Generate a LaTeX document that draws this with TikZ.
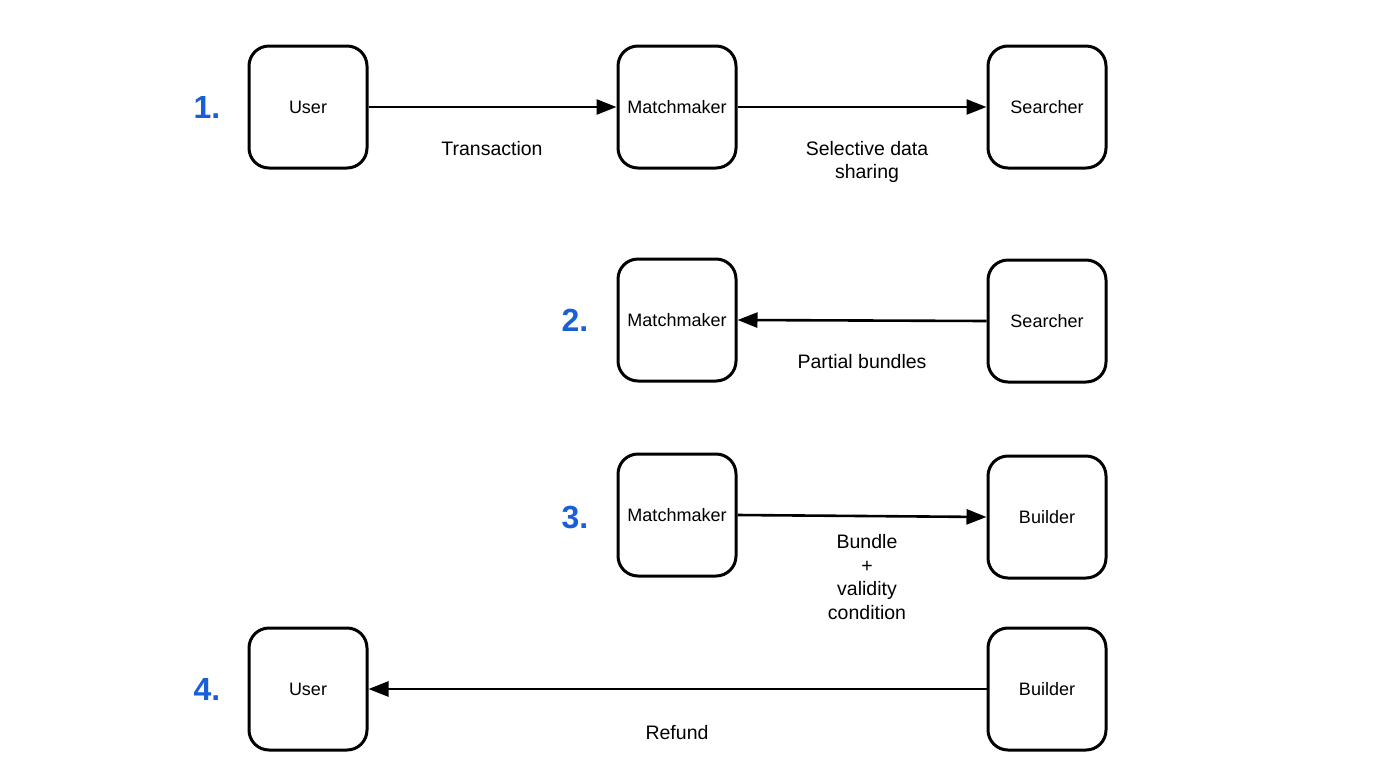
\documentclass[tikz,border=0pt]{standalone}
\usepackage{fontspec}
\setmainfont{Liberation Sans}
\usetikzlibrary{arrows.meta}
\definecolor{numblue}{HTML}{1A5FD6}
\tikzset{
  actor/.style={draw=black, line width=3pt, rounded corners=20pt, minimum width=118pt, minimum height=122pt, inner sep=0pt, font=\fontsize{18}{21}\selectfont},
  num/.style={text=numblue, font=\fontsize{32}{36}\selectfont\bfseries},
  lbl/.style={align=center, font=\fontsize{19.5}{23.5}\selectfont},
  conn/.style={line width=2.6pt, -{Triangle[length=20pt,width=15pt]}}
}
\begin{document}
\begin{tikzpicture}[x=1pt,y=-1pt]
\useasboundingbox (0,0) rectangle (1400,782);
% row 1
\node[actor] (u1) at (308,107) {User};
\node[actor] (m1) at (677,107) {Matchmaker};
\node[actor] (s1) at (1047,107) {Searcher};
\node[num] (n1) at (207,107) {1.};
\draw[conn] (u1.east) -- (m1.west);
\draw[conn] (m1.east) -- (s1.west);
\node[lbl] (l1) at (492,149) {Transaction};
\node[lbl] (l2) at (867,162) {Selective data\\sharing};
% row 2
\node[actor] (m2) at (677,320) {Matchmaker};
\node[actor] (s2) at (1047,321) {Searcher};
\node[num] (n2) at (575,320) {2.};
\draw[conn] (s2.west) -- (m2.east);
\node[lbl] (l3) at (862,362) {Partial bundles};
% row 3
\node[actor] (m3) at (677,515) {Matchmaker};
\node[actor] (b3) at (1047,517) {Builder};
\node[num] (n3) at (575,517) {3.};
\draw[conn] (m3.east) -- (b3.west);
\node[lbl] (l4) at (867,577) {Bundle\\+\\validity\\condition};
% row 4
\node[actor] (u4) at (308,689) {User};
\node[actor] (b4) at (1047,689) {Builder};
\node[num] (n4) at (207,689) {4.};
\draw[conn] (b4.west) -- (u4.east);
\node[lbl] (l5) at (677,733) {Refund};
\end{tikzpicture}
\end{document}
